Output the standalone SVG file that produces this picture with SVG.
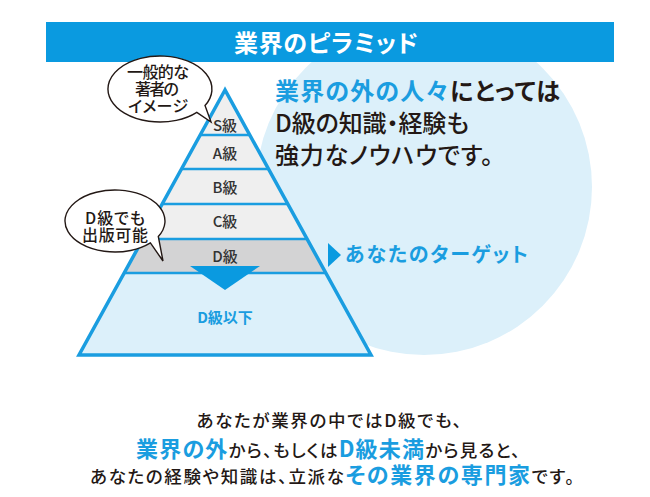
<svg xmlns="http://www.w3.org/2000/svg" width="650" height="497" viewBox="0 0 650 497">
<defs>
<style>
text{font-family:"Noto Sans CJK JP","Noto Sans",sans-serif;font-feature-settings:"palt";}
.blue{fill:#1a9de0;}
.dark{fill:#231815;}
.lvl{font-size:15px;font-weight:500;fill:#333333;text-anchor:middle;}
.bub{fill:#ffffff;stroke:#231815;stroke-width:1.4;}
.bt{font-size:16px;font-weight:500;fill:#231815;text-anchor:middle;}
.band{stroke:#1a9de0;stroke-width:2.5;}
</style>
<clipPath id="pyr"><polygon points="225,90 79,355 371,355"/></clipPath>
<clipPath id="belowbar"><rect x="0" y="62" width="650" height="435"/></clipPath>
</defs>
<rect width="650" height="497" fill="#ffffff"/>

<g id="bg-circle" clip-path="url(#belowbar)">
<circle cx="424" cy="187" r="168" fill="#dcf0fa"/>
</g>

<g id="header">
<rect x="46" y="22" width="568" height="40" fill="#0a9ae0"/>
<text x="326" y="52" font-size="24" font-weight="700" fill="#ffffff" text-anchor="middle" textLength="184">業界のピラミッド</text>
</g>

<g id="pyramid">
<g clip-path="url(#pyr)">
<rect x="60" y="80" width="330" height="159" fill="#efefef"/>
<rect x="60" y="239" width="330" height="34" fill="#d3d3d4"/>
<rect x="60" y="273" width="330" height="90" fill="#dcf0fa"/>
<line class="band" x1="60" y1="135" x2="390" y2="135"/>
<line class="band" x1="60" y1="169" x2="390" y2="169"/>
<line class="band" x1="60" y1="204" x2="390" y2="204"/>
<line class="band" x1="60" y1="239" x2="390" y2="239"/>
<line class="band" x1="60" y1="273" x2="390" y2="273"/>
</g>
<polygon points="225,90 79,355 371,355" fill="none" stroke="#1a9de0" stroke-width="3.5" stroke-linejoin="miter"/>
</g>

<g id="level-S"><text class="lvl" x="225" y="131">S級</text></g>
<g id="level-A"><text class="lvl" x="225" y="159">A級</text></g>
<g id="level-B"><text class="lvl" x="225" y="193">B級</text></g>
<g id="level-C"><text class="lvl" x="225" y="227">C級</text></g>
<g id="level-D"><text class="lvl" x="225" y="262">D級</text></g>
<g id="level-below"><text x="225" y="323" font-size="15" font-weight="700" class="blue" text-anchor="middle">D級以下</text></g>

<g id="connectors">
<polygon points="190,266 260,266 225,290" fill="#0a9ae0"/>
<polygon points="328,243 341,255 328,267" fill="#0a9ae0"/>
</g>

<g id="bubble-image">
<path class="bub" d="M205,105.5 A52 33 0 1 0 196.8,112.3 L211,122 Z"/>
<text class="bt" x="158" y="78" textLength="62">一般的な</text>
<text class="bt" x="157" y="95" textLength="44">著者の</text>
<text class="bt" x="158" y="112" textLength="60">イメージ</text>
</g>

<g id="bubble-d">
<path class="bub" d="M158.3,236.5 A50 31 0 1 0 150.4,242.9 L163,261 Z"/>
<text class="bt" x="115" y="224" textLength="60">D級でも</text>
<text class="bt" x="115" y="241" textLength="66">出版可能</text>
</g>

<g id="target-label">
<text x="345" y="262" font-size="20" font-weight="700" class="blue" textLength="183">あなたのターゲット</text>
</g>

<g id="headline">
<text x="275" y="100" font-size="24" font-weight="700" textLength="285"><tspan class="blue">業界の外の人々</tspan><tspan class="dark">にとっては</tspan></text>
<text x="275" y="132" font-size="24" font-weight="500" class="dark" textLength="194">D級の知識・経験も</text>
<text x="275" y="164" font-size="24" font-weight="500" class="dark" textLength="218">強力なノウハウです。</text>
</g>

<g id="caption">
<text x="329" y="427" font-size="17.5" font-weight="500" class="dark" text-anchor="middle" textLength="265">あなたが業界の中ではD級でも、</text>
<text x="328" y="457" font-size="17.5" font-weight="500" class="dark" text-anchor="middle" textLength="384"><tspan class="blue" font-size="22" font-weight="700">業界の外</tspan>から、もしくは<tspan class="blue" font-size="22" font-weight="700">D級未満</tspan>から見ると、</text>
<text x="332" y="483" font-size="17.5" font-weight="500" class="dark" text-anchor="middle" textLength="484">あなたの経験や知識は、立派な<tspan class="blue" font-size="22" font-weight="700">その業界の専門家</tspan>です。</text>
</g>
</svg>
